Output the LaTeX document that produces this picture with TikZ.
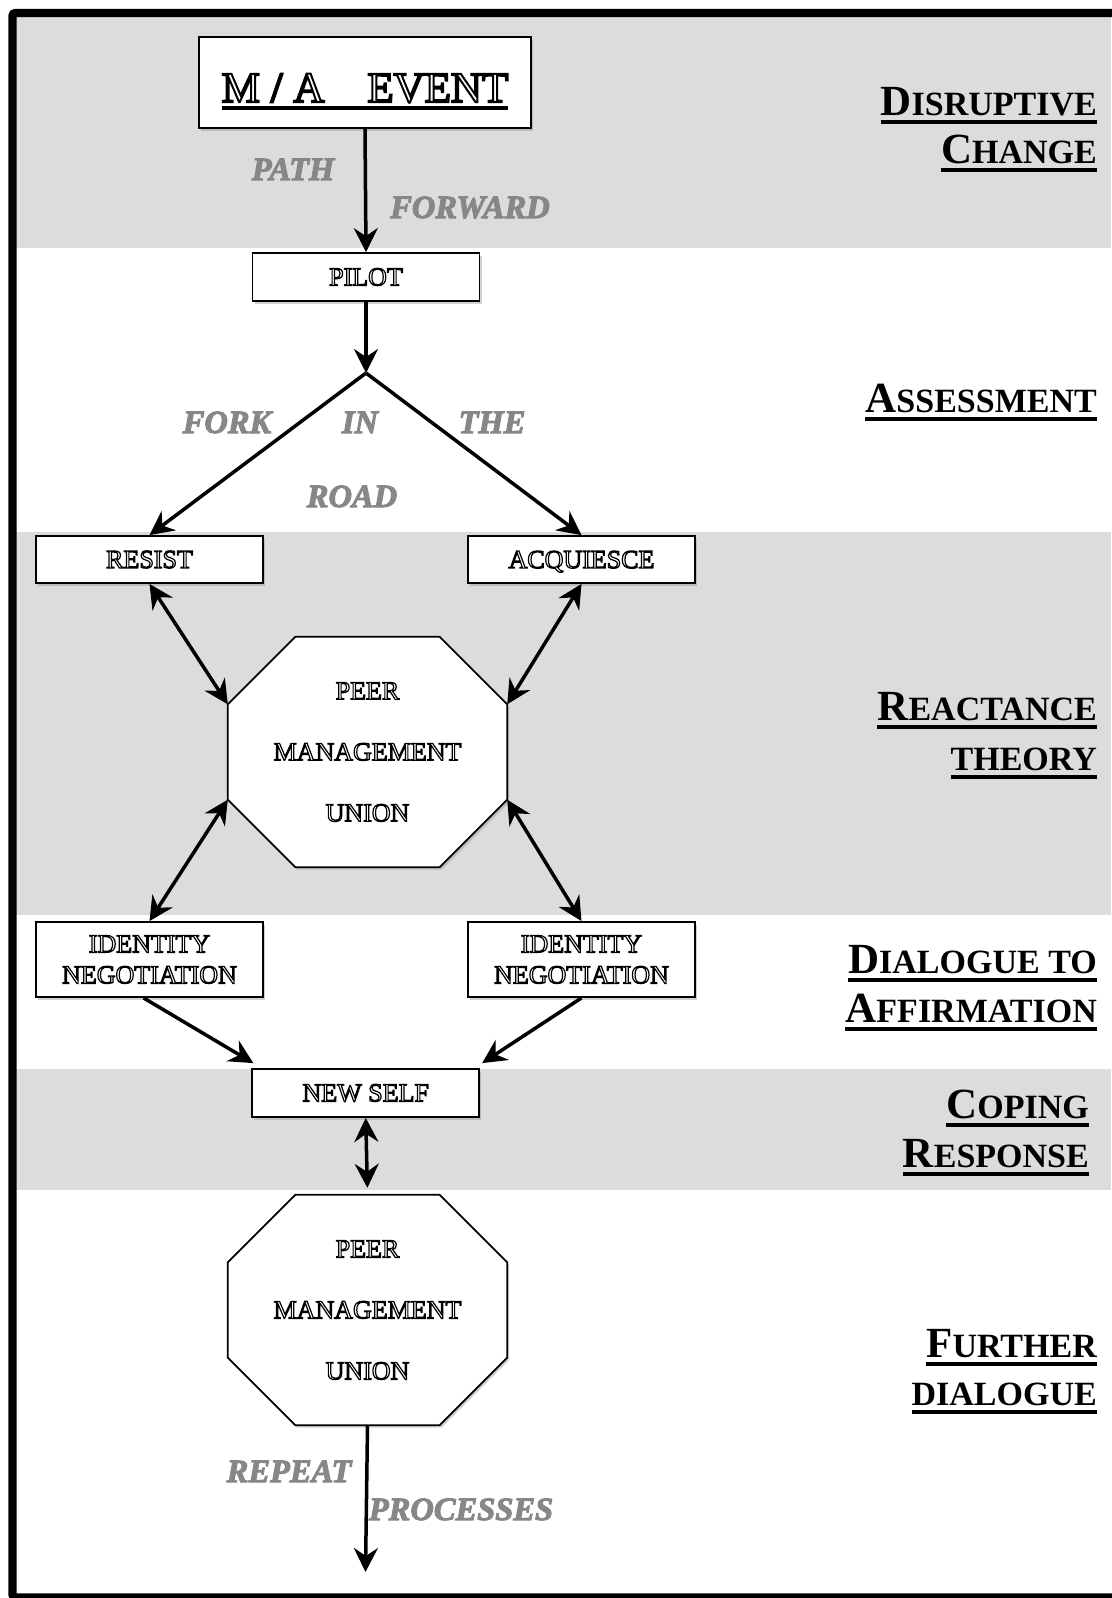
\documentclass[tikz,border=0pt]{standalone}
\usepackage{fontspec}
\setmainfont{Liberation Serif}
\usetikzlibrary{arrows.meta,calc,shadows}

\definecolor{bandgray}{RGB}{220,220,220}
\definecolor{labelgray}{RGB}{135,135,135}

% layers: grey bands at the bottom, octagon shapes above them
\pgfdeclarelayer{bands}
\pgfdeclarelayer{shapes}
\pgfsetlayers{bands,shapes,main}

% hollow (outlined) and edged lettering through the PDF text render mode
\newcommand\hollowon{\special{pdf:literal direct 1 Tr 1.2 w}}
\newcommand\hollowheavy{\special{pdf:literal direct 1 Tr 2 w}}
\newcommand\edgedon{\special{pdf:literal direct 2 Tr 1 w 0.37 G}}
\newcommand\renderoff{\special{pdf:literal direct 0 Tr}}

% thick underline for headings and the title
\newcommand\thickul[3]{\leavevmode\setbox0=\hbox{#3}\rlap{\rule[-#1]{\wd0}{#2}}\box0}
\newcommand\hdcap[1]{{\fontsize{43}{49}\selectfont #1}}
\newcommand\hdsmall[1]{{\fontsize{34}{49}\selectfont #1}}
\newcommand\headline[1]{\thickul{9pt}{4pt}{#1}}

\begin{document}
\begin{tikzpicture}[x=1pt,y=-1pt,
  shade/.style={drop shadow={shadow xshift=2pt,shadow yshift=-2.5pt,opacity=0.35}},
  stepbox/.style={draw,line width=1.8pt,fill=white,shade,inner sep=0pt,
    minimum width=227pt,minimum height=47pt,align=center,
    font=\fontsize{26}{31}\selectfont,
    execute at begin node=\hollowon,execute at end node=\renderoff},
  octtext/.style={inner sep=0pt,minimum width=279pt,minimum height=230pt,
    align=center,font=\fontsize{26}{61}\selectfont,
    execute at begin node=\hollowon,execute at end node=\renderoff},
  octline/.style={draw,line width=1.8pt,fill=white,shade,line join=miter},
  lbl/.style={anchor=base,inner sep=0pt,text=labelgray,
    font=\fontsize{32.5}{38}\selectfont\bfseries\itshape,
    execute at begin node=\edgedon,execute at end node=\renderoff},
  head/.style={anchor=base east,inner sep=0pt,font=\bfseries},
  tip/.tip={Stealth[length=24pt,width=24pt,inset=8pt]},
  conn/.style={line width=3.5pt,-tip},
  dconn/.style={line width=3.5pt,tip-tip}
]
\useasboundingbox (0,0) rectangle (1111,1598);

% horizontal grey stages
\begin{pgfonlayer}{bands}
  \fill[white] (0,0) rectangle (1111,1598);
  \fill[bandgray] (16,13) rectangle (1111,248);
  \fill[bandgray] (16,532) rectangle (1111,915);
  \fill[bandgray] (16,1069) rectangle (1111,1190);
\end{pgfonlayer}

% outer frame
\draw[line width=8.4pt,rounded corners=3pt] (12.5,13) rectangle (1130,1597.5);

% process boxes
\node[stepbox,minimum width=332pt,minimum height=91pt,
      font=\fontsize{43}{49}\selectfont,text height=45pt,text depth=6pt,
      execute at begin node=\hollowheavy]
  (ma) at (365,82.5) {\thickul{7.5pt}{3.5pt}{M / A\hspace{43pt}EVENT}};
\node[stepbox,minimum height=48pt] (pilot) at (366,277) {PILOT};
\node[stepbox] (resist) at (149.5,559.5) {RESIST};
\node[stepbox,text depth=0pt] (acq) at (581.5,559.5) {ACQUIESCE};
\node[stepbox,minimum height=75pt] (idl) at (149.5,959.5) {IDENTITY\\NEGOTIATION};
\node[stepbox,minimum height=75pt] (idr) at (581.5,959.5) {IDENTITY\\NEGOTIATION};
\node[stepbox,minimum height=48pt] (ns) at (365.75,1093) {NEW SELF};

% octagonal nodes
\node[octtext] (oct1) at (367.5,752) {PEER\\MANAGEMENT\\UNION};
\node[octtext] (oct2) at (367.5,1310) {PEER\\MANAGEMENT\\UNION};
\begin{pgfonlayer}{shapes}
  \foreach \o in {oct1,oct2}{
    \draw[octline] ([xshift=67.5pt]\o.north west) -- ([xshift=-67.5pt]\o.north east)
      -- ([yshift=-67.5pt]\o.north east) -- ([yshift=67.5pt]\o.south east)
      -- ([xshift=-67.5pt]\o.south east) -- ([xshift=67.5pt]\o.south west)
      -- ([yshift=67.5pt]\o.south west) -- ([yshift=-67.5pt]\o.north west) -- cycle;
  }
\end{pgfonlayer}

% free ends of connectors
\coordinate (fork) at (366,373);
\coordinate (out) at (365.5,1572);

% connectors
\draw[conn] (ma.south) -- (pilot.north);
\draw[conn] (pilot.south) -- (fork);
\draw[conn] (fork) -- (resist.north);
\draw[conn] (fork) -- (acq.north);
\draw[dconn] (resist.south) -- ([yshift=-67.5pt]oct1.north west);
\draw[dconn] (acq.south) -- ([yshift=-67.5pt]oct1.north east);
\draw[dconn] ([yshift=67.5pt]oct1.south west) -- (idl.north);
\draw[dconn] ([yshift=67.5pt]oct1.south east) -- (idr.north);
\draw[conn] ([xshift=-6pt]idl.south) -- ([xshift=2pt,yshift=5pt]ns.north west);
\draw[conn] (idr.south) -- ([xshift=2pt,yshift=5pt]ns.north east);
\draw[dconn,shorten >=7pt] (ns.south) -- (oct2.north);
\draw[conn] (oct2.south) -- (out);

% path labels
\node[lbl] (lpath) at (293,180) {PATH};
\node[lbl] (lfwd) at (470,218) {FORWARD};
\node[lbl] (lfork) at (227,433) {FORK};
\node[lbl] (lin) at (360,433) {IN};
\node[lbl] (lthe) at (492,433) {THE};
\node[lbl] (lroad) at (352,507) {ROAD};
\node[lbl] (lrep) at (289,1482) {REPEAT};
\node[lbl] (lproc) at (461,1520) {PROCESSES};

% stage headings
\node[head] (h1a) at (1097,115) {\headline{\hdcap{D}\hdsmall{ISRUPTIVE}}};
\node[head] (h1b) at (1097,163) {\headline{\hdcap{C}\hdsmall{HANGE}}};
\node[head] (h2) at (1097,412) {\headline{\hdcap{A}\hdsmall{SSESSMENT}}};
\node[head] (h3a) at (1097,720) {\headline{\hdcap{R}\hdsmall{EACTANCE}}};
\node[head] (h3b) at (1097,770) {\headline{\hdsmall{THEORY}}};
\node[head] (h4a) at (1097,973) {\headline{\hdcap{D}\hdsmall{IALOGUE TO}}};
\node[head] (h4b) at (1097,1022) {\headline{\hdcap{A}\hdsmall{FFIRMATION}}};
\node[head] (h5a) at (1089,1118) {\headline{\hdcap{C}\hdsmall{OPING}}};
\node[head] (h5b) at (1089,1167) {\headline{\hdcap{R}\hdsmall{ESPONSE}}};
\node[head] (h6a) at (1097,1357) {\headline{\hdcap{F}\hdsmall{URTHER}}};
\node[head] (h6b) at (1097,1405) {\headline{\hdsmall{DIALOGUE}}};
\end{tikzpicture}
\end{document}
